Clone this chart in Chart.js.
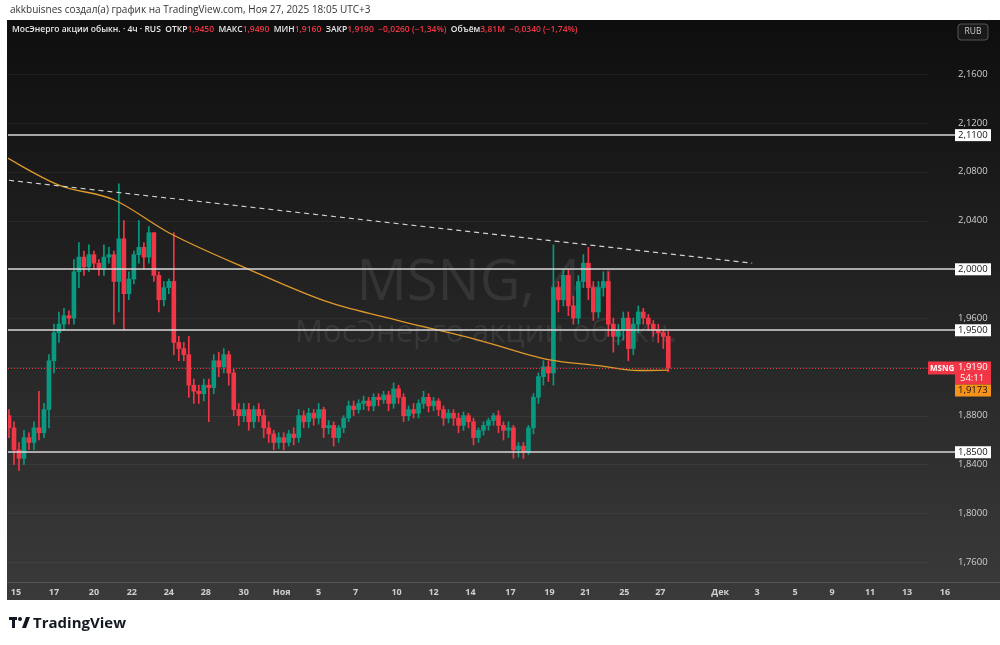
<!DOCTYPE html>
<html>
<head>
<meta charset="utf-8">
<script src="https://cdn.jsdelivr.net/npm/chart.js@4"></script>
<style>
  body { margin: 0; background: #fff; }
  #wrap { position: relative; width: 1000px; height: 645px; }
</style>
</head>
<body>
<div id="wrap"><canvas id="chart" width="1000" height="645"></canvas></div>
<script>
// 4h candles, one every step on the x index
const firstOpen = 1.880;
const closes = [
  1.870,1.852,1.845,1.862,1.858,1.870,1.866,1.885,1.925,1.948,
  1.955,1.962,1.960,1.998,2.010,2.002,2.012,2.005,2.000,2.010,
  2.012,1.990,2.025,1.980,1.992,2.012,2.018,2.010,2.030,1.995,
  1.975,1.985,1.990,1.940,1.935,1.930,1.905,1.900,1.898,1.905,
  1.903,1.925,1.920,1.930,1.915,1.885,1.880,1.885,1.875,1.885,
  1.880,1.870,1.865,1.858,1.862,1.858,1.865,1.862,1.880,1.875,
  1.882,1.878,1.885,1.870,1.872,1.862,1.870,1.878,1.888,1.885,
  1.890,1.892,1.888,1.895,1.893,1.897,1.890,1.902,1.895,1.880,
  1.885,1.882,1.890,1.895,1.888,1.892,1.885,1.878,1.882,1.878,
  1.872,1.880,1.875,1.862,1.868,1.872,1.876,1.880,1.872,1.868,
  1.870,1.852,1.855,1.850,1.870,1.895,1.912,1.920,1.915,1.985,
  1.975,1.995,1.970,1.960,1.990,2.005,1.985,1.965,1.985,1.990,
  1.955,1.945,1.950,1.960,1.935,1.955,1.965,1.960,1.955,1.950,
  1.948,1.945,1.919
];
const highs = [
  1.885,1.875,1.858,1.868,1.866,1.875,1.900,1.890,1.930,1.955,
  1.965,1.968,1.966,2.008,2.022,2.015,2.020,2.015,2.008,2.020,
  2.018,2.015,2.070,2.040,1.998,2.015,2.040,2.022,2.035,2.030,
  1.998,1.990,1.992,2.030,1.945,1.940,1.945,1.910,1.905,1.910,
  1.910,1.930,1.932,1.935,1.933,1.918,1.890,1.890,1.890,1.888,
  1.890,1.885,1.875,1.868,1.866,1.866,1.868,1.870,1.885,1.884,
  1.886,1.885,1.890,1.887,1.876,1.875,1.872,1.880,1.892,1.892,
  1.893,1.896,1.895,1.898,1.898,1.900,1.900,1.907,1.905,1.898,
  1.888,1.890,1.893,1.900,1.898,1.895,1.894,1.888,1.885,1.885,
  1.882,1.883,1.882,1.878,1.870,1.875,1.878,1.882,1.884,1.875,
  1.875,1.872,1.858,1.858,1.872,1.898,1.915,1.925,1.925,2.020,
  1.990,2.000,2.000,1.978,1.995,2.012,2.018,1.990,1.990,1.998,
  1.998,1.960,1.955,1.965,1.965,1.960,1.970,1.968,1.963,1.958,
  1.955,1.950,1.949
];
const lows = [
  1.862,1.840,1.835,1.840,1.852,1.852,1.860,1.862,1.870,1.915,
  1.940,1.950,1.955,1.955,1.985,1.995,1.998,2.000,1.995,1.995,
  2.005,1.955,1.965,1.950,1.975,1.988,2.005,2.000,2.005,1.990,
  1.965,1.970,1.980,1.930,1.925,1.925,1.895,1.890,1.890,1.892,
  1.875,1.898,1.912,1.915,1.905,1.880,1.872,1.875,1.868,1.870,
  1.875,1.862,1.858,1.852,1.853,1.852,1.855,1.856,1.858,1.870,
  1.870,1.872,1.873,1.862,1.865,1.855,1.858,1.866,1.875,1.880,
  1.882,1.885,1.884,1.884,1.888,1.890,1.884,1.886,1.890,1.875,
  1.876,1.878,1.878,1.886,1.883,1.884,1.880,1.872,1.874,1.872,
  1.866,1.868,1.870,1.856,1.858,1.864,1.868,1.872,1.866,1.860,
  1.862,1.845,1.846,1.845,1.848,1.865,1.890,1.905,1.908,1.905,
  1.965,1.970,1.962,1.955,1.955,1.985,1.975,1.958,1.960,1.978,
  1.945,1.932,1.938,1.942,1.925,1.930,1.948,1.955,1.950,1.945,
  1.940,1.935,1.916
];
// moving average (orange) read at sparse candle indices
const maIdx = [-2, 10, 21, 32, 48, 64, 78, 94, 108, 118, 126, 132];
const maVal = [2.095, 2.069, 2.057, 2.030, 2.000, 1.973, 1.958, 1.942, 1.926, 1.921, 1.917, 1.9173];
// dashed trend line
const trendIdx = [0, 148.8];
const trendVal = [2.073, 2.005];
// horizontal levels
const levels = [2.11, 2.00, 1.95, 1.85];
const lastPrice = 1.919;
const maLast = 1.9173;
const priceTicks = [2.16, 2.12, 2.08, 2.04, 1.96, 1.88, 1.84, 1.80, 1.76];
const dateLabels = ['15','17','20','22','24','28','30','Ноя','5','7','10','12','14','17','19','21','25','27','Дек','3','5','9','11','13','16'];
const datePos = [1.4,9,17,24.6,32,39.4,47,54.6,62,69.4,77.6,85,92.4,100.4,108.2,115.4,123.2,130.4,142.4,149.8,157.4,164.8,172.4,179.8,187.4];

const UP = '#089981', DOWN = '#f23645';
const opens = closes.map((c, i) => i === 0 ? firstOpen : closes[i - 1]);
const isUp = closes.map((c, i) => c >= opens[i]);
const bodies = closes.map((c, i) => ({ x: i, y: [opens[i], c === opens[i] ? c + 0.0005 : c] }));
const wicks = closes.map((c, i) => ({ x: i, y: [lows[i], highs[i]] }));
const candleColors = isUp.map(u => u ? UP : DOWN);

const bgPlugin = {
  id: 'bg',
  beforeDraw(chart) {
    const ctx = chart.ctx;
    ctx.save();
    ctx.fillStyle = '#fff';
    ctx.fillRect(0, 0, 1000, 645);
    const g = ctx.createLinearGradient(0, 20, 0, 600);
    g.addColorStop(0, '#0e0e0e');
    g.addColorStop(1, '#3a3a3a');
    ctx.fillStyle = g;
    ctx.fillRect(7, 20, 993, 580);
    const y = chart.scales.y;
    ctx.strokeStyle = 'rgba(255,255,255,0.05)';
    ctx.lineWidth = 1;
    priceTicks.concat([2.0, 1.92]).forEach(p => {
      const py = Math.round(y.getPixelForValue(p)) + 0.5;
      ctx.beginPath(); ctx.moveTo(8, py); ctx.lineTo(928, py); ctx.stroke();
    });
    // watermark
    ctx.fillStyle = 'rgba(120,120,120,0.22)';
    ctx.textAlign = 'center';
    ctx.textBaseline = 'middle';
    ctx.font = '56px "Open Sans", sans-serif';
    ctx.fillText('MSNG, 4ч', 486, 284);
    ctx.font = '31px "Open Sans", sans-serif';
    ctx.fillText('МосЭнерго акции обыкн.', 486, 333);
    ctx.restore();
  },
  afterDatasetsDraw(chart) {
    const ctx = chart.ctx, x = chart.scales.x, y = chart.scales.y;
    ctx.save();
    // levels
    ctx.strokeStyle = '#d8d8d8';
    ctx.lineWidth = 1.5;
    levels.forEach(p => {
      const py = Math.round(y.getPixelForValue(p));
      ctx.beginPath(); ctx.moveTo(8, py); ctx.lineTo(956, py); ctx.stroke();
    });
    // last price dotted
    const lp = Math.round(y.getPixelForValue(lastPrice)) + 0.5;
    ctx.strokeStyle = '#f23645';
    ctx.lineWidth = 1;
    ctx.setLineDash([1, 2]);
    ctx.beginPath(); ctx.moveTo(8, lp); ctx.lineTo(928, lp); ctx.stroke();
    ctx.setLineDash([]);
    // axes separator
    ctx.strokeStyle = '#555';
    ctx.beginPath(); ctx.moveTo(7, 582.5); ctx.lineTo(1000, 582.5); ctx.stroke();
    // price ticks
    ctx.font = '9.5px "Open Sans", sans-serif';
    ctx.textBaseline = 'middle';
    ctx.textAlign = 'left';
    ctx.fillStyle = '#cfcfcf';
    priceTicks.forEach(p => {
      ctx.fillText(p.toFixed(4).replace('.', ','), 958, y.getPixelForValue(p));
    });
    levels.forEach(p => {
      const py = y.getPixelForValue(p);
      ctx.fillStyle = '#fff';
      ctx.fillRect(955, py - 6, 36, 12);
      ctx.fillStyle = '#131313';
      ctx.fillText(p.toFixed(4).replace('.', ','), 958, py);
    });
    // last price label
    ctx.fillStyle = DOWN;
    ctx.fillRect(928, lp - 7, 27, 13);
    ctx.fillRect(955, lp - 7, 36, 23);
    ctx.fillStyle = '#fff';
    ctx.font = 'bold 8px "Open Sans", sans-serif';
    ctx.fillText('MSNG', 930, lp);
    ctx.font = '9.5px "Open Sans", sans-serif';
    ctx.fillText('1,9190', 958, lp - 1);
    ctx.fillText('54:11', 960, lp + 10);
    ctx.fillStyle = '#f7931a';
    ctx.fillRect(955, lp + 16, 36, 12);
    ctx.fillStyle = '#111';
    ctx.fillText(maLast.toFixed(4).replace('.', ','), 958, lp + 22);
    // date labels
    ctx.fillStyle = '#cfcfcf';
    ctx.textAlign = 'center';
    ctx.font = 'bold 9px "Open Sans", sans-serif';
    dateLabels.forEach((t, i) => ctx.fillText(t, x.getPixelForValue(datePos[i]), 592));
    // RUB button
    ctx.strokeStyle = '#555';
    ctx.fillStyle = '#1a1a1a';
    ctx.beginPath(); ctx.roundRect(958, 24, 30, 16, 3); ctx.fill(); ctx.stroke();
    ctx.fillStyle = '#cfcfcf';
    ctx.font = '8.5px "Open Sans", sans-serif';
    ctx.fillText('RUB', 973, 32);
    // header
    ctx.textAlign = 'left';
    ctx.fillStyle = '#333';
    ctx.font = '10px "Open Sans", sans-serif';
    ctx.fillText('akkbuisnes создал(а) график на TradingView.com, Ноя 27, 2025 18:05 UTC+3', 10, 10);
    const parts = [
      ['МосЭнерго акции обыкн. · 4ч · RUS  ', '#e8e8e8'], ['ОТКР', '#e8e8e8'], ['1,9450  ', DOWN],
      ['МАКС', '#e8e8e8'], ['1,9490  ', DOWN], ['МИН', '#e8e8e8'], ['1,9160  ', DOWN],
      ['ЗАКР', '#e8e8e8'], ['1,9190  −0,0260 (−1,34%)  ', DOWN], ['Объём', '#e8e8e8'], ['3,81M  −0,0340 (−1,74%)', DOWN]
    ];
    ctx.font = '600 8.5px "Open Sans", sans-serif';
    let px = 12;
    parts.forEach(([t, c]) => { ctx.fillStyle = c; ctx.fillText(t, px, 30); px += ctx.measureText(t).width; });
    // footer logo
    ctx.fillStyle = '#131722';
    ctx.font = 'bold 15px "Open Sans", sans-serif';
    ctx.fillText('TradingView', 33, 624);
    ctx.fillRect(9, 617, 8, 3);
    ctx.fillRect(12, 617, 3, 11);
    ctx.beginPath(); ctx.arc(20, 619, 2, 0, Math.PI * 2); ctx.fill();
    ctx.beginPath(); ctx.moveTo(22, 628); ctx.lineTo(26, 617); ctx.lineTo(30, 617); ctx.lineTo(26, 628); ctx.fill();
    ctx.restore();
  }
};

new Chart(document.getElementById('chart'), {
  type: 'bar',
  data: {
    datasets: [
      {
        type: 'line', data: trendIdx.map((v, i) => ({ x: v, y: trendVal[i] })),
        borderColor: '#d0d0d0', borderWidth: 1.2, borderDash: [5, 4], pointRadius: 0, order: 0
      },
      {
        type: 'line', data: maIdx.map((v, i) => ({ x: v, y: maVal[i] })),
        borderColor: '#e09a2a', borderWidth: 1.3, pointRadius: 0, cubicInterpolationMode: 'monotone', order: 1
      },
      { data: bodies, backgroundColor: candleColors, barThickness: 4, grouped: false, order: 2 },
      { data: wicks, backgroundColor: candleColors, barThickness: 1, grouped: false, order: 3 }
    ]
  },
  options: {
    responsive: false,
    animation: false,
    layout: { padding: { left: 8, right: 72, top: 20, bottom: 63 } },
    plugins: { legend: { display: false }, tooltip: { enabled: false } },
    scales: {
      x: { type: 'linear', min: -0.2, max: 184, display: false, offset: false },
      y: { min: 1.7436, max: 2.2044, display: false }
    }
  },
  plugins: [bgPlugin]
});
</script>
</body>
</html>
